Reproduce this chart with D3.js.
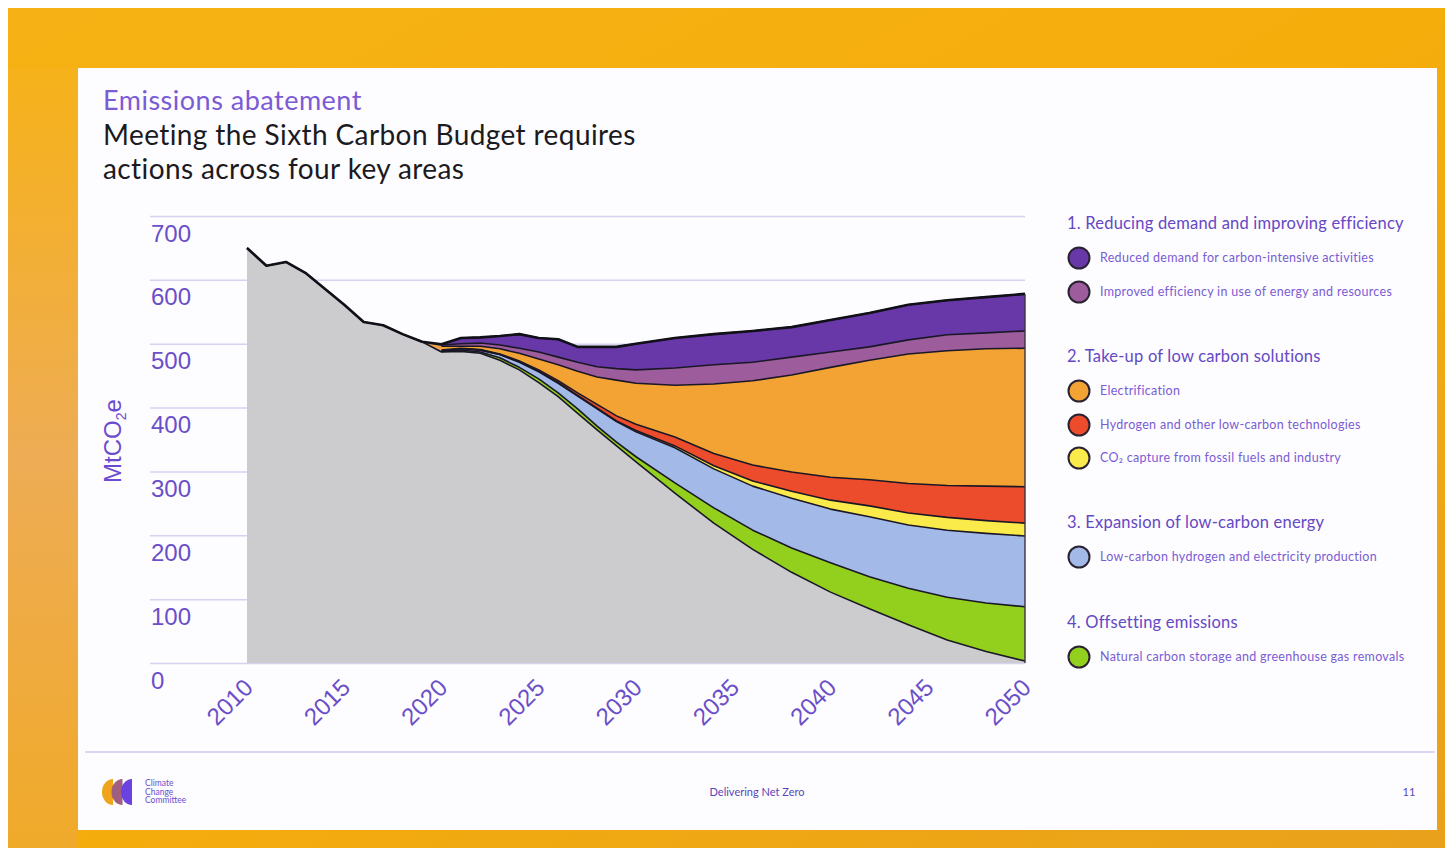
<!DOCTYPE html>
<html><head><meta charset="utf-8">
<script src="https://cdn.jsdelivr.net/npm/d3@7"></script>
<style>
html,body{margin:0;padding:0;background:#fff;}
svg{display:block;}
</style></head>
<body>
<svg id="chart" width="1445" height="848"></svg>
<script>
// ---------------- DATA ----------------
const years = [2010,2011,2012,2013,2014,2015,2016,2017,2018,2019,2020,2021,2022,2023,2024,2025,2026,2027,2028,2029,2030,2032,2034,2036,2038,2040,2042,2044,2046,2048,2050];
// remaining emissions (grey)
const remaining = [650,622,628,611,586,561,534,529,515,503,487,488,485,474,459,439,417,391,365,340,315,266,219,178,142,111,85,60,36,18,3];
// 4. Natural carbon storage and greenhouse gas removals
const removals = [0,0,0,0,0,0,0,0,0,0,1,2,2,4,4,6,6,7,6,6,8,16,24,30,38,46,50,57,67,76,85];
// 3. Low-carbon hydrogen and electricity production
const supply = [0,0,0,0,0,0,0,0,0,0,1,2,3,5,8,11,15,20,27,32,39,55,61,69,78,84,94,99,105,109,111];
// 2. CO2 capture from fossil fuels and industry
const ccs = [0,0,0,0,0,0,0,0,0,0,0,0,0,0,1,1,1,1,1,1,2,3,5,8,11,14,17,19,20,20,20];
// 2. Hydrogen and other low-carbon technologies
const hydrogen = [0,0,0,0,0,0,0,0,0,0,1,1,1,1,1,2,3,4,6,8,10,14,19,25,30,36,41,46,50,54,57];
// 2. Electrification
const electrification = [0,0,0,0,0,0,0,0,0,0,6,3,5,8,12,17,25,34,43,56,64,81,109,132,152,172,187,203,211,215,217];
// 1. Improved efficiency in use of energy and resources
const efficiency = [0,0,0,0,0,0,0,0,0,0,2,4,5,6,8,11,12,14,16,18,21,27,30,29,28,24,21,22,25,25,27];
// 1. Reduced demand for carbon-intensive activities
const demand = [0,0,0,0,0,0,0,0,0,0,1,9,9,14,22,22,28,24,31,34,41,47,48,49,47,50,53,55,54,56,58];

const yTicks = [0,100,200,300,400,500,600,700];
const xTicks = [2010,2015,2020,2025,2030,2035,2040,2045,2050];

const legendGroups = [
  {header:"1. Reducing demand and improving efficiency", items:[
    {key:"demand", label:"Reduced demand for carbon-intensive activities"},
    {key:"efficiency", label:"Improved efficiency in use of energy and resources"}]},
  {header:"2. Take-up of low carbon solutions", items:[
    {key:"electrification", label:"Electrification"},
    {key:"hydrogen", label:"Hydrogen and other low-carbon technologies"},
    {key:"ccs", label:"CO\u2082 capture from fossil fuels and industry"}]},
  {header:"3. Expansion of low-carbon energy", items:[
    {key:"supply", label:"Low-carbon hydrogen and electricity production"}]},
  {header:"4. Offsetting emissions", items:[
    {key:"removals", label:"Natural carbon storage and greenhouse gas removals"}]}
];

// ---------------- STYLE / LAYOUT ----------------
const colors = {
  remaining:"#cccbce", removals:"#93d01e", supply:"#a3b9e7", ccs:"#fbeb4a",
  hydrogen:"#ec4b2c", electrification:"#f3a234", efficiency:"#9d5c9c", demand:"#6838a8"
};
const keys = ["remaining","removals","supply","ccs","hydrogen","electrification","efficiency","demand"];
const series = {remaining, removals, supply, ccs, hydrogen, electrification, efficiency, demand};
const table = years.map((yr,i)=>{ const o={year:yr}; keys.forEach(k=>o[k]=series[k][i]); return o; });

const W=1445, H=848;
const svg = d3.select("#chart");
const defs = svg.append("defs");
const bg = defs.append("linearGradient").attr("id","bg").attr("x1","0").attr("x2","1").attr("y1","0").attr("y2","1");
bg.append("stop").attr("offset","0").attr("stop-color","#f6b214");
bg.append("stop").attr("offset","0.5").attr("stop-color","#f5ad0c");
bg.append("stop").attr("offset","1").attr("stop-color","#e9a11c");
const lg = defs.append("linearGradient").attr("id","leftstrip").attr("x1","0").attr("x2","0").attr("y1","0").attr("y2","1");
lg.append("stop").attr("offset","0").attr("stop-color","#f6b21a");
lg.append("stop").attr("offset","0.5").attr("stop-color","#eeac55");
lg.append("stop").attr("offset","1").attr("stop-color","#f0aa2a");

svg.append("rect").attr("width",W).attr("height",H).attr("fill","#ffffff");
svg.append("rect").attr("x",8).attr("y",8).attr("width",W-8).attr("height",H-8).attr("fill","url(#bg)");
svg.append("rect").attr("x",8).attr("y",68).attr("width",70).attr("height",H-68).attr("fill","url(#leftstrip)");
// slide panel
svg.append("rect").attr("x",78).attr("y",68).attr("width",1359).attr("height",762).attr("fill","#fdfcfe");

const FONT = "Lato, 'Open Sans', sans-serif";
const NUMFONT = "'Liberation Sans', Arial, sans-serif";
const PURPLE = "#6a4fc8";

// titles
svg.append("text").attr("x",103).attr("y",110).attr("font-family",FONT).attr("font-size",27)
  .attr("letter-spacing",0.5).attr("fill","#7b5ad6").text("Emissions abatement");
svg.append("text").attr("x",103).attr("y",145).attr("font-family",FONT).attr("font-size",28)
  .attr("letter-spacing",0.4).attr("fill","#1b1a1f").text("Meeting the Sixth Carbon Budget requires");
svg.append("text").attr("x",103).attr("y",179).attr("font-family",FONT).attr("font-size",28)
  .attr("letter-spacing",0.4).attr("fill","#1b1a1f").text("actions across four key areas");

// scales
const x = d3.scaleLinear().domain([2010,2050]).range([247,1025]);
const y = d3.scaleLinear().domain([0,700]).range([663,216]);

// grid + y labels
const gy = svg.append("g").attr("transform","translate(150,0)")
  .call(d3.axisRight(y).tickValues(yTicks).tickSize(875).tickFormat(d3.format("d")));
gy.select(".domain").remove();
gy.selectAll("line").attr("stroke","#d6d2ef").attr("stroke-width",1.5);
gy.selectAll("text").attr("x",1).attr("y",25).attr("dy",0).attr("text-anchor","start")
  .attr("font-family",NUMFONT).attr("font-size",24).attr("fill",PURPLE);

// stacked areas
const stacked = d3.stack().keys(keys)(table);
const area = d3.area().x(d=>x(d.data.year)).y0(d=>y(d[0])).y1(d=>y(d[1]));
const plot = svg.append("g");
plot.selectAll("path.layer").data(stacked).join("path").attr("class","layer")
  .attr("fill",d=>colors[d.key]).attr("stroke","none").attr("d",area);

// boundary lines
const line = d3.line().x(d=>x(d.data.year)).y(d=>y(d[1]));
stacked.forEach((s,i)=>{
  const pts = i===0 ? s : s.filter(d=>d.data.year>=2020);
  plot.append("path").attr("d",line(pts)).attr("fill","none")
    .attr("stroke","#1a1826").attr("stroke-width",1.6).attr("stroke-linejoin","round");
});
// top outline
const topSeries = stacked[stacked.length-1];
plot.append("path").attr("d",line(topSeries)).attr("fill","none")
  .attr("stroke","#111018").attr("stroke-width",2.6).attr("stroke-linejoin","round");
// right edge
const last = topSeries[topSeries.length-1];
plot.append("line").attr("x1",x(2050)).attr("x2",x(2050)).attr("y1",y(0)).attr("y2",y(last[1]))
  .attr("stroke","#3a3440").attr("stroke-width",1.4);

// x axis labels
const gx = svg.append("g").attr("transform","translate(0,689)")
  .call(d3.axisBottom(x).tickValues(xTicks).tickSize(0).tickFormat(d3.format("d")));
gx.select(".domain").remove();
gx.selectAll("text").attr("x",0).attr("y",0).attr("dy",0).attr("text-anchor","end")
  .attr("transform","translate(7,0) rotate(-45)")
  .attr("font-family",NUMFONT).attr("font-size",24).attr("fill",PURPLE);

// y axis title
const yt = svg.append("text").attr("transform","translate(121,441) rotate(-90)").attr("text-anchor","middle")
  .attr("font-family",NUMFONT).attr("font-size",24).attr("fill","#6b4bd0");
yt.append("tspan").text("MtCO");
yt.append("tspan").attr("font-size",14).attr("dy",5).text("2");
yt.append("tspan").attr("dy",-5).text("e");

// legend
const headerY = [229, 362, 528, 628];
const itemYs = [[258,292],[391,425,458],[557],[657]];
const leg = svg.append("g");
legendGroups.forEach((g,gi)=>{
  leg.append("text").attr("x",1067).attr("y",headerY[gi]).attr("font-family",FONT).attr("font-size",16.5)
    .attr("letter-spacing",0.2).attr("fill","#6448c4").text(g.header);
  g.items.forEach((it,ii)=>{
    const cy = itemYs[gi][ii];
    leg.append("circle").attr("cx",1079).attr("cy",cy).attr("r",10.5)
      .attr("fill",colors[it.key]).attr("stroke","#2a2233").attr("stroke-width",2);
    leg.append("text").attr("x",1100).attr("y",cy+4).attr("font-family",FONT).attr("font-size",12.5)
      .attr("letter-spacing",0.3).attr("fill","#7a5cd4").text(it.label);
  });
});

// footer
svg.append("line").attr("x1",85).attr("x2",1435).attr("y1",752).attr("y2",752)
  .attr("stroke","#cfc8f0").attr("stroke-width",1.5);
const logoCols = ["#eea51c","#a05f80","#6a42e0"];
logoCols.forEach((c,i)=>{
  const cx = 113 + i*9.5, top=779, bot=805, rx=11;
  svg.append("path").attr("d",`M${cx},${top} A${rx},13 0 0 0 ${cx},${bot} Z`).attr("fill",c);
});
["Climate","Change","Committee"].forEach((t,i)=>{
  svg.append("text").attr("x",145).attr("y",786+i*8.5).attr("font-family",FONT).attr("font-size",8.5)
    .attr("fill","#6a4fd0").text(t);
});
svg.append("text").attr("x",757).attr("y",796).attr("text-anchor","middle").attr("font-family",FONT)
  .attr("font-size",11).attr("fill","#5a46b8").text("Delivering Net Zero");
svg.append("text").attr("x",1409).attr("y",796).attr("text-anchor","middle").attr("font-family",FONT)
  .attr("font-size",11).attr("fill","#5a46b8").text("11");
</script>
</body></html>
